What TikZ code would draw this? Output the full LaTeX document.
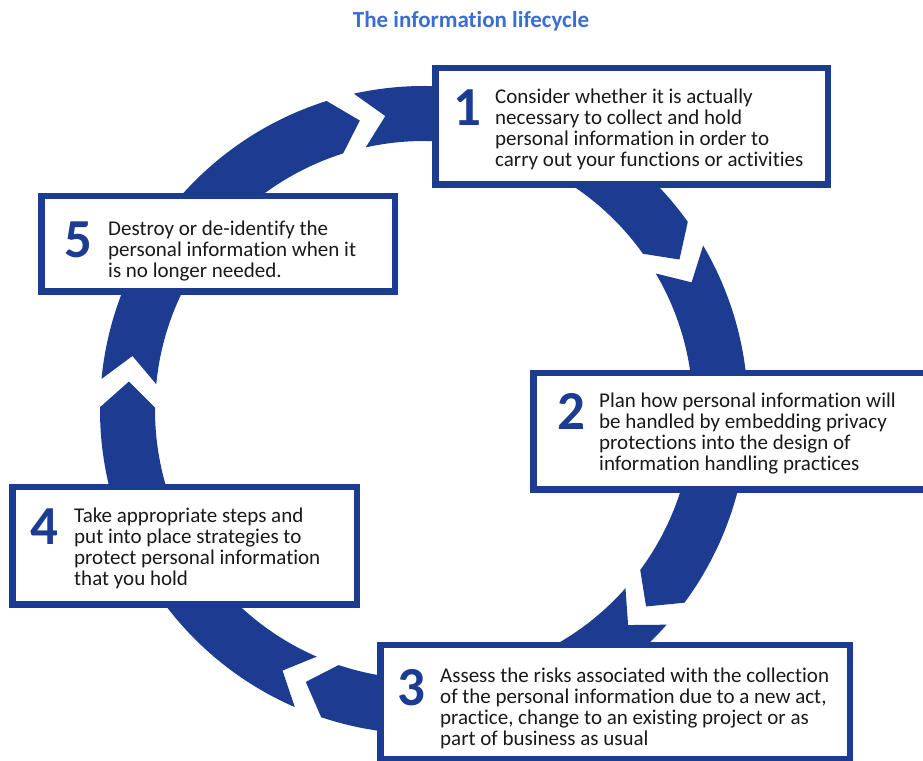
\documentclass[tikz,border=0pt]{standalone}
\usepackage{fontspec}
\setmainfont{Carlito}[Ligatures=NoCommon]
\usetikzlibrary{calc}
\definecolor{ringblue}{RGB}{28,60,145}
\definecolor{titleblue}{RGB}{60,110,210}
\begin{document}
\begin{tikzpicture}[x=1pt,y=1pt,
  ring/.style={fill=ringblue},
  stepbox/.style={draw=ringblue, line width=6.5pt, fill=white, inner sep=0pt, outer sep=0pt},
  num/.style={font=\fontsize{55}{55}\selectfont\bfseries, text=ringblue, inner sep=0pt, anchor=base},
  body/.style={font=\fontsize{21}{21}\selectfont, text=black!90, align=left, inner sep=0pt, anchor=base west},
]
\useasboundingbox (0,0) rectangle (923,760);
\fill[white] (0,0) rectangle (923,760);
\coordinate (C) at (424,350);
% ring segments with chevron joints
\foreach \a in {105,33,-39,-111,-183}{
  \fill[ring] ($(C)+({\a-2.5}:324)$) arc[start angle={\a-2.5}, end angle={\a-69.5}, radius=324]
    -- ($(C)+({\a-74.5}:296.5)$)
    -- ($(C)+({\a-69.5}:269)$) arc[start angle={\a-69.5}, end angle={\a-2.5}, radius=269]
    -- ($(C)+({\a-7.5}:296.5)$) -- cycle;
}
% title
\node[font=\fontsize{23}{26}\selectfont\bfseries, text=titleblue, inner sep=0pt, anchor=base] (title) at (471,732) {The information lifecycle};
% boxes
\node[stepbox, minimum width=392.5pt, minimum height=116.5pt] (b1) at (631.5,633.5) {};
\node[stepbox, minimum width=398.5pt, minimum height=116.5pt] (b2) at (732.5,328.5) {};
\node[stepbox, minimum width=469.5pt, minimum height=113.5pt] (b3) at (615,58) {};
\node[stepbox, minimum width=344.5pt, minimum height=117.5pt] (b4) at (184.5,214) {};
\node[stepbox, minimum width=353.5pt, minimum height=95.5pt] (b5) at (218,516) {};
% numbers
\node[num] (n1) at (467.5,634) {1};
\node[num] (n2) at (571,330) {2};
\node[num] (n3) at (411,55) {3};
\node[num] (n4) at (44,215) {4};
\node[num] (n5) at (78,502) {5};
% texts (anchored at the baseline of the last line)
\node[body] (t1) at (495,593) {Consider whether it is actually\\necessary to collect and hold\\personal information in order to\\carry out your functions or activities};
\node[body] (t2) at (599,289) {Plan how personal information will\\be handled by embedding privacy\\protections into the design of\\information handling practices};
\node[body] (t3) at (440,15) {Assess the risks associated with the collection\\of the personal information due to a new act,\\practice, change to an existing project or as\\part of business as usual};
\node[body] (t4) at (74,174) {Take appropriate steps and\\put into place strategies to\\protect personal information\\that you hold};
\node[body] (t5) at (108,482) {Destroy or de-identify the\\personal information when it\\is no longer needed.};
\end{tikzpicture}
\end{document}
